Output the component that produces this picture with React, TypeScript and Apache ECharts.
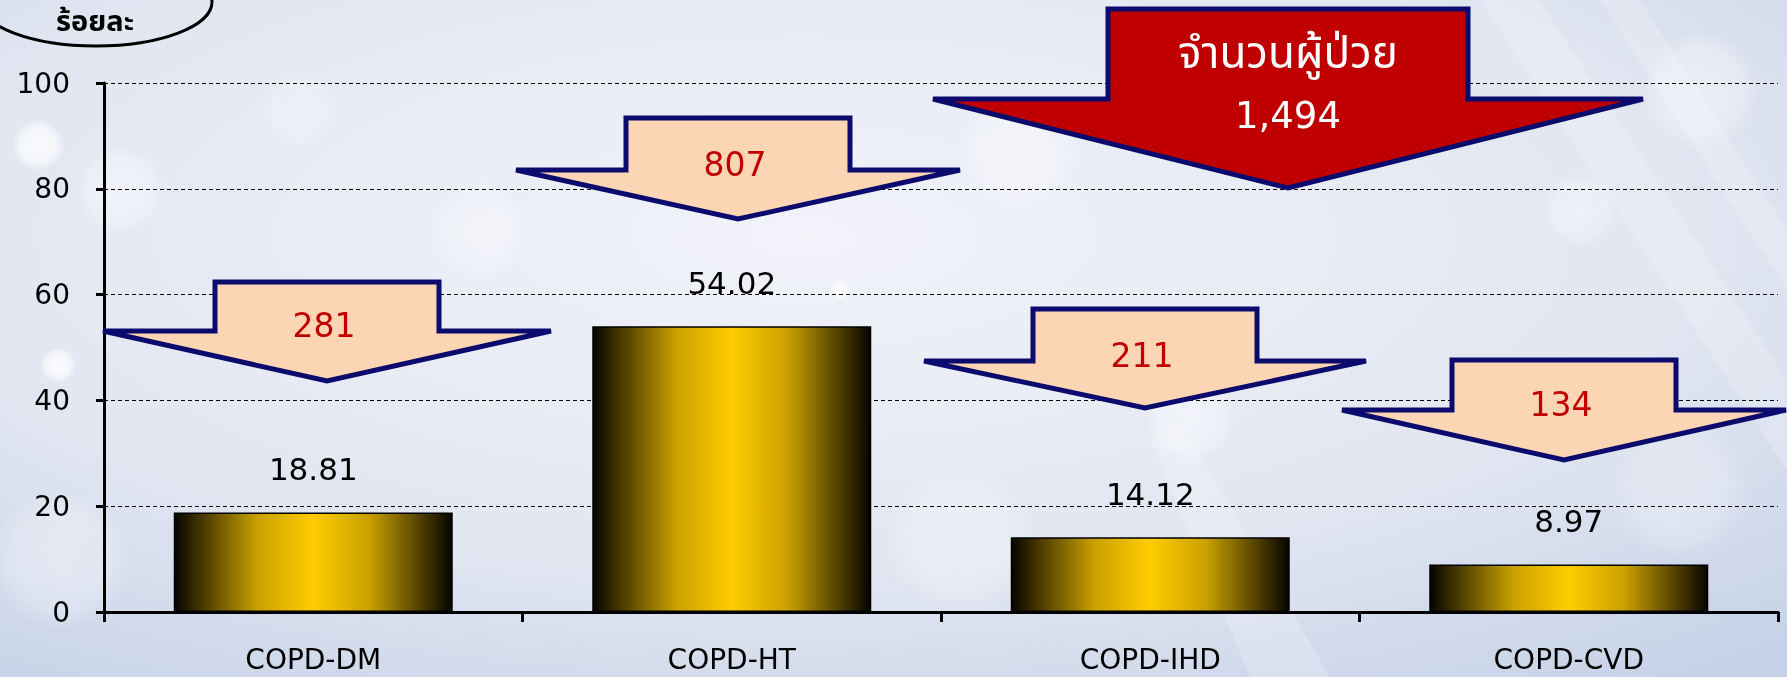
import React, { useEffect, useRef } from "react";
import * as echarts from "echarts";

const categories = ["COPD-DM", "COPD-HT", "COPD-IHD", "COPD-CVD"];
const percentValues = [18.81, 54.02, 14.12, 8.97];
const patientCounts = [281, 807, 211, 134];
const totalPatients = 1494;
const yTicks = [0, 20, 40, 60, 80, 100];
const unitLabel = "ร้อยละ";
const totalLabel = "จำนวนผู้ป่วย";

const W = 1787;
const H = 677;
const LATIN = "'DejaVu Sans', 'Liberation Sans', Arial, sans-serif";
const THAI = "'Noto Sans Thai', 'Noto Sans Thai UI', 'Loma', 'Garuda', 'Noto Sans', 'DejaVu Sans', sans-serif";

// arrow layouts (pixel decoration): center x, body top, body half width, wing y, wing half width, tip y
const arrowLayouts = [
  { cx: 327, top: 282, bh: 112, wy: 331, wh: 224, ty: 381 },
  { cx: 738, top: 118, bh: 112, wy: 170, wh: 222, ty: 219 },
  { cx: 1145, top: 309, bh: 112, wy: 361, wh: 221, ty: 408 },
  { cx: 1564, top: 360, bh: 112, wy: 410, wh: 222, ty: 460 },
];
const bigArrow = { cx: 1288, top: 9, bh: 180, wy: 99, wh: 355, ty: 188 };

function arrowPoints(a: { cx: number; top: number; bh: number; wy: number; wh: number; ty: number }) {
  return [
    [a.cx - a.bh, a.top],
    [a.cx + a.bh, a.top],
    [a.cx + a.bh, a.wy],
    [a.cx + a.wh, a.wy],
    [a.cx, a.ty],
    [a.cx - a.wh, a.wy],
    [a.cx - a.bh, a.wy],
  ];
}

const bokeh = [
  { x: 38, y: 145, r: 26, o: 0.85 },
  { x: 58, y: 365, r: 18, o: 0.85 },
  { x: 120, y: 190, r: 45, o: 0.45 },
  { x: 300, y: 110, r: 40, o: 0.3 },
  { x: 480, y: 230, r: 50, o: 0.3 },
  { x: 1020, y: 150, r: 60, o: 0.35 },
  { x: 1190, y: 420, r: 45, o: 0.45 },
  { x: 1580, y: 210, r: 38, o: 0.4 },
  { x: 1700, y: 90, r: 60, o: 0.4 },
  { x: 960, y: 540, r: 75, o: 0.3 },
  { x: 1680, y: 490, r: 70, o: 0.3 },
  { x: 60, y: 560, r: 70, o: 0.35 },
  { x: 700, y: 420, r: 60, o: 0.2 },
  { x: 840, y: 290, r: 10, o: 0.8 },
];

export default function App() {
  const ref = useRef<HTMLDivElement>(null);
  useEffect(() => {
    document.body.style.margin = "0";
    const chart = echarts.init(ref.current!, null, { renderer: "svg" });

    const graphics: any[] = [];
    bokeh.forEach((b) => {
      graphics.push({
        type: "circle",
        z: -10,
        silent: true,
        shape: { cx: b.x, cy: b.y, r: b.r },
        style: {
          fill: new echarts.graphic.RadialGradient(0.5, 0.5, 0.5, [
            { offset: 0, color: `rgba(255,255,255,${b.o})` },
            { offset: 0.7, color: `rgba(255,255,255,${b.o * 0.7})` },
            { offset: 1, color: "rgba(255,255,255,0)" },
          ]),
        },
      });
    });
    // faint diagonal streaks on the right
    [
      [[1480, 0], [1540, 0], [1787, 380], [1787, 470]],
      [[1600, 0], [1640, 0], [1787, 230], [1787, 290]],
      [[1250, 677], [1330, 677], [1180, 420], [1150, 440]],
    ].forEach((pts) => {
      graphics.push({
        type: "polygon",
        z: -9,
        silent: true,
        shape: { points: pts },
        style: { fill: "rgba(255,255,255,0.2)" },
      });
    });

    // unit ellipse
    graphics.push({
      type: "ellipse",
      z: 50,
      shape: { cx: 96, cy: 2, rx: 116, ry: 44 },
      style: { fill: "rgba(0,0,0,0)", stroke: "#000", lineWidth: 3 },
    });
    graphics.push({
      type: "text",
      z: 51,
      x: 95,
      y: 22,
      style: {
        text: unitLabel,
        font: `bold 29px ${THAI}`,
        fill: "#000",
        align: "center",
        verticalAlign: "middle",
      },
    });

    // count arrows
    arrowLayouts.forEach((a, i) => {
      graphics.push({
        type: "polygon",
        z: 60,
        shape: { points: arrowPoints(a) },
        style: { fill: "#FCD5B5", stroke: "#0B0B6E", lineWidth: 5, lineJoin: "miter" },
      });
      graphics.push({
        type: "text",
        z: 61,
        x: a.cx - 3,
        y: a.wy - 6,
        style: {
          text: String(patientCounts[i]),
          font: `33px ${LATIN}`,
          fill: "#C00000",
          align: "center",
          verticalAlign: "middle",
        },
      });
    });

    // big total arrow
    graphics.push({
      type: "polygon",
      z: 60,
      shape: { points: arrowPoints(bigArrow) },
      style: { fill: "#C00000", stroke: "#0B0B6E", lineWidth: 5, lineJoin: "miter" },
    });
    graphics.push({
      type: "text",
      z: 61,
      x: bigArrow.cx,
      y: 54,
      style: {
        text: totalLabel,
        font: `44px ${THAI}`,
        fill: "#FFFFFF",
        align: "center",
        verticalAlign: "middle",
      },
    });
    graphics.push({
      type: "text",
      z: 61,
      x: bigArrow.cx,
      y: 115,
      style: {
        text: totalPatients.toLocaleString("en-US"),
        font: `37px ${LATIN}`,
        fill: "#FFFFFF",
        align: "center",
        verticalAlign: "middle",
      },
    });

    const barGradient = new echarts.graphic.LinearGradient(0, 0, 1, 0, [
      { offset: 0, color: "#050400" },
      { offset: 0.06, color: "#2e2400" },
      { offset: 0.3, color: "#caa100" },
      { offset: 0.5, color: "#FFCC00" },
      { offset: 0.7, color: "#caa100" },
      { offset: 0.94, color: "#2e2400" },
      { offset: 1, color: "#050400" },
    ]);

    chart.setOption({
      animation: false,
      backgroundColor: new echarts.graphic.RadialGradient(0.45, 0.35, 0.9, [
        { offset: 0, color: "#F2F3F9" },
        { offset: 0.55, color: "#E1E6F1" },
        { offset: 1, color: "#BFCDE5" },
      ]),
      grid: { left: 104, right: 9, top: 83, bottom: 65, containLabel: false },
      xAxis: {
        type: "category",
        data: categories,
        boundaryGap: true,
        axisLine: { show: true, lineStyle: { color: "#000", width: 3 } },
        axisTick: { show: true, length: 10, lineStyle: { color: "#000", width: 3 } },
        axisLabel: { margin: 33, fontSize: 28, color: "#000", fontFamily: LATIN },
      },
      yAxis: {
        type: "value",
        min: yTicks[0],
        max: yTicks[yTicks.length - 1],
        interval: yTicks[1] - yTicks[0],
        axisLine: { show: true, lineStyle: { color: "#000", width: 3 } },
        axisTick: { show: true, length: 8, lineStyle: { color: "#000", width: 3 } },
        axisLabel: { margin: 34, fontSize: 28, color: "#000", fontFamily: LATIN },
        splitLine: { show: true, lineStyle: { color: "#000", width: 1, type: [4, 3] } },
      },
      series: [
        {
          type: "bar",
          data: percentValues,
          barWidth: 279,
          itemStyle: { color: barGradient, borderColor: "#000", borderWidth: 1.5 },
          label: {
            show: true,
            position: "top",
            distance: 28,
            fontSize: 31,
            color: "#000",
            fontFamily: LATIN,
            formatter: (p: any) => p.value.toFixed(2),
          },
        },
      ],
      graphic: graphics,
    });
    return () => chart.dispose();
  }, []);
  return <div ref={ref} style={{ position: "fixed", left: 0, top: 0, width: W, height: H }} />;
}
